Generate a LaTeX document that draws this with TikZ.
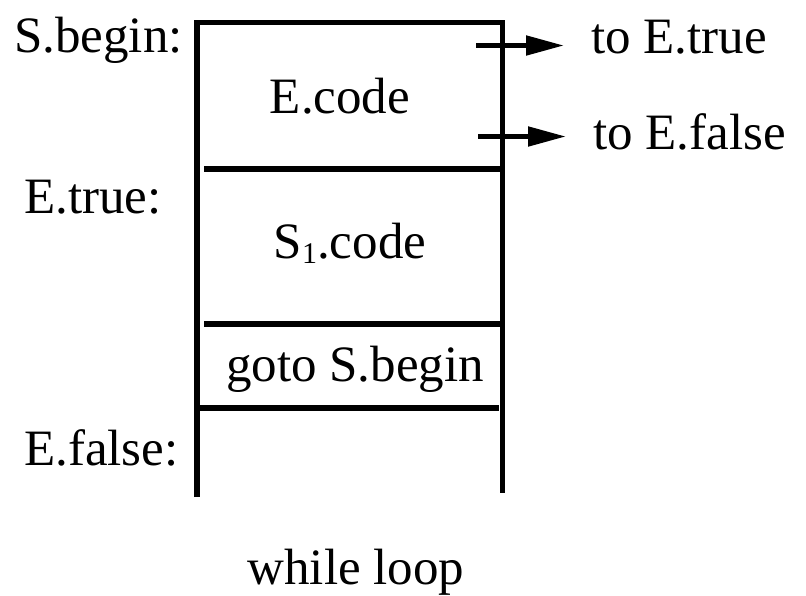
\documentclass[tikz,border=0pt]{standalone}
\usepackage{fontspec}
\setmainfont{Liberation Serif}
\usetikzlibrary{arrows.meta}
\begin{document}
\begin{tikzpicture}[x=1pt,y=-1pt,
  wall/.style={line width=5.5pt},
  lab/.style={font=\fontsize{51}{51}\selectfont, inner sep=0pt, anchor=base},
  outarrow/.style={line width=5pt, -{Triangle[length=38pt,width=19pt]}}]
\useasboundingbox (0,0) rectangle (806,595);
% frame
\coordinate (tl) at (197,22.5);
\coordinate (tr) at (502.5,22.5);
\coordinate (bl) at (197,497);
\coordinate (br) at (502.5,493);
\draw[wall] (bl) -- (tl) -- (tr) -- (br);
% separators
\coordinate (s1a) at (204,169); \coordinate (s1b) at (500,169);
\coordinate (s2a) at (204,324); \coordinate (s2b) at (500,324);
\coordinate (s3a) at (200,408); \coordinate (s3b) at (499,408);
\draw[wall] (s1a) -- (s1b);
\draw[wall] (s2a) -- (s2b);
\draw[wall] (s3a) -- (s3b);
% arrows
\coordinate (a1s) at (476,45.5); \coordinate (a1e) at (564,45.5);
\coordinate (a2s) at (478,136.5); \coordinate (a2e) at (566,136.5);
\draw[outarrow] (a1s) -- (a1e);
\draw[outarrow] (a2s) -- (a2e);
% labels
\node[lab, anchor=base east] (sbegin) at (183,52) {S.begin:};
\node[lab, anchor=base west] (toetrue) at (591,53) {to E.true};
\node[lab] (ecode) at (340,113) {E.code};
\node[lab, anchor=base west] (toefalse) at (593,149) {to E.false};
\node[lab, anchor=base west] (etrue) at (24,213) {E.true:};
\node[lab] (s1code) at (350,258) {S\raisebox{-0.25ex}{\fontsize{30}{30}\selectfont 1}.code};
\node[lab] (gotob) at (355,381) {goto S.begin};
\node[lab, anchor=base west] (efalse) at (24,465) {E.false:};
\node[lab] (while) at (356,584) {while loop};
\end{tikzpicture}
\end{document}
